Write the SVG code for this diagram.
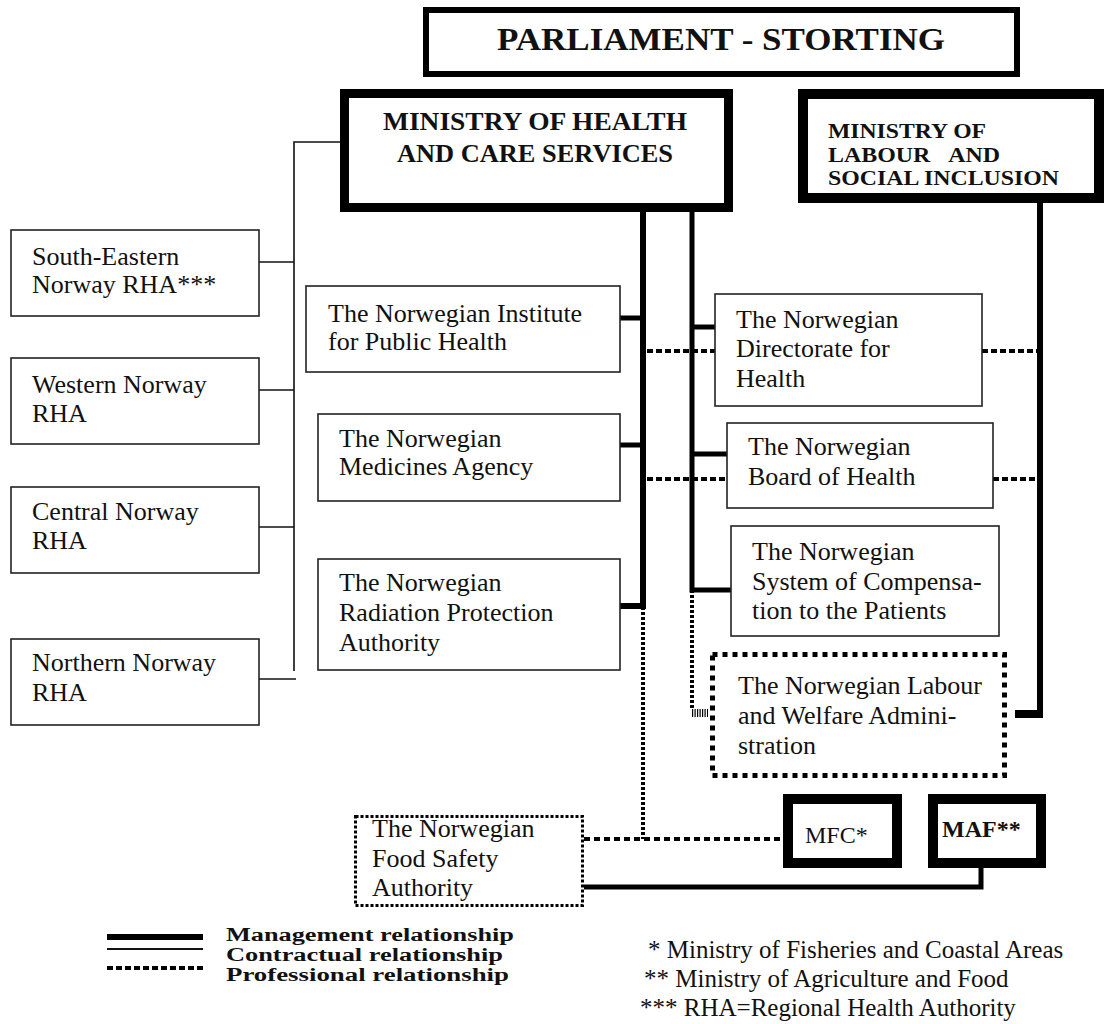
<svg xmlns="http://www.w3.org/2000/svg" width="1107" height="1024" viewBox="0 0 1107 1024">
<style>
  text { font-family: "Liberation Serif", "Times New Roman", serif; fill: #111; }
  .t { font-size: 26px; }
  .b { font-weight: bold; }
  .box { fill: #fff; stroke: #222; stroke-width: 1.6; }
  .heavy { fill: #fff; stroke: #000; }
  .thin { fill: none; stroke: #111; stroke-width: 1.6; }
  .mgmt { fill: none; stroke: #000; stroke-width: 5; }
  .prof { fill: none; stroke: #000; stroke-width: 4; stroke-dasharray: 6 3; }
  .profv { fill: none; stroke: #000; stroke-width: 4; stroke-dasharray: 3 2; }
</style>

<g id="connectors">
  <!-- contractual -->
  <polyline class="thin" points="340,142 294,142 294,671"/>
  <line class="thin" x1="259" y1="262" x2="294" y2="262"/>
  <line class="thin" x1="259" y1="390" x2="294" y2="390"/>
  <line class="thin" x1="259" y1="527" x2="294" y2="527"/>
  <line class="thin" x1="259" y1="679" x2="296" y2="679"/>
  <!-- management -->
  <path class="mgmt" d="M643,212 V606 H620" style="stroke-width:6"/>
  <line class="mgmt" x1="620" y1="318" x2="643" y2="318"/>
  <line class="mgmt" x1="620" y1="445" x2="643" y2="445"/>
  <path class="mgmt" d="M692,212 V590 H731"/>
  <line class="mgmt" x1="692" y1="327" x2="715" y2="327"/>
  <line class="mgmt" x1="692" y1="454" x2="727" y2="454"/>
  <line class="mgmt" x1="1040" y1="203" x2="1040" y2="718" style="stroke-width:6"/>
  <rect x="1015" y="710" width="28" height="8" fill="#000"/>
  <path class="mgmt" d="M584,887 H981 V868"/>
  <!-- professional -->
  <line class="prof" x1="647" y1="351" x2="715" y2="351"/>
  <line class="prof" x1="982" y1="351" x2="1038" y2="351"/>
  <line class="prof" x1="647" y1="479" x2="727" y2="479"/>
  <line class="prof" x1="993" y1="479" x2="1038" y2="479"/>
  <line class="profv" x1="643" y1="607" x2="643" y2="839"/>
  <line class="prof" x1="584" y1="839" x2="783" y2="839" style="stroke-dasharray:6 4"/>
  <line class="profv" x1="692" y1="590" x2="692" y2="710"/>
  <line x1="692" y1="713" x2="708" y2="713" stroke="#000" stroke-width="8" stroke-dasharray="1.2 1.3"/>
</g>

<g id="parliament">
  <rect class="heavy" x="426" y="10" width="591" height="64" stroke-width="6"/>
  <text class="b" x="497" y="50" font-size="31" textLength="448" lengthAdjust="spacingAndGlyphs">PARLIAMENT - STORTING</text>
</g>

<g id="ministry-health">
  <rect class="heavy" x="344.5" y="93.5" width="384" height="114" stroke-width="9"/>
  <text class="b" font-size="24.5"><tspan x="383" y="130" textLength="304" lengthAdjust="spacingAndGlyphs">MINISTRY OF HEALTH</tspan></text>
  <text class="b" font-size="24.5"><tspan x="397" y="162" textLength="276" lengthAdjust="spacingAndGlyphs">AND CARE SERVICES</tspan></text>
</g>

<g id="ministry-labour">
  <rect class="heavy" x="803" y="94" width="296" height="104" stroke-width="10"/>
  <text class="b" x="828" y="138" font-size="21" textLength="158" lengthAdjust="spacingAndGlyphs">MINISTRY OF</text>
  <text class="b" x="828" y="162" font-size="21" textLength="172" lengthAdjust="spacingAndGlyphs">LABOUR&#160;&#160;&#160;AND</text>
  <text class="b" x="828" y="185" font-size="21" textLength="231" lengthAdjust="spacingAndGlyphs">SOCIAL INCLUSION</text>
</g>

<g id="rha-south-eastern">
  <rect class="box" x="11" y="230" width="248" height="86"/>
  <text class="t"><tspan x="32" y="265">South-Eastern</tspan><tspan x="32" y="293">Norway RHA***</tspan></text>
</g>
<g id="rha-western">
  <rect class="box" x="11" y="358" width="248" height="86"/>
  <text class="t"><tspan x="32" y="393">Western Norway</tspan><tspan x="32" y="422">RHA</tspan></text>
</g>
<g id="rha-central">
  <rect class="box" x="11" y="487" width="248" height="86"/>
  <text class="t"><tspan x="32" y="520">Central Norway</tspan><tspan x="32" y="549">RHA</tspan></text>
</g>
<g id="rha-northern">
  <rect class="box" x="11" y="639" width="248" height="86"/>
  <text class="t"><tspan x="32" y="671">Northern Norway</tspan><tspan x="32" y="701">RHA</tspan></text>
</g>

<g id="institute-public-health">
  <rect class="box" x="306" y="286" width="314" height="86"/>
  <text class="t"><tspan x="328" y="322">The Norwegian Institute</tspan><tspan x="328" y="350">for Public Health</tspan></text>
</g>
<g id="medicines-agency">
  <rect class="box" x="318" y="414" width="302" height="87"/>
  <text class="t"><tspan x="339" y="447">The Norwegian</tspan><tspan x="339" y="475">Medicines Agency</tspan></text>
</g>
<g id="radiation-protection">
  <rect class="box" x="318" y="559" width="302" height="111"/>
  <text class="t"><tspan x="339" y="591">The Norwegian</tspan><tspan x="339" y="621">Radiation Protection</tspan><tspan x="339" y="651">Authority</tspan></text>
</g>

<g id="directorate-health">
  <rect class="box" x="715" y="294" width="267" height="112"/>
  <text class="t"><tspan x="736" y="328">The Norwegian</tspan><tspan x="736" y="357">Directorate for</tspan><tspan x="736" y="387">Health</tspan></text>
</g>
<g id="board-health">
  <rect class="box" x="727" y="423" width="266" height="85"/>
  <text class="t"><tspan x="748" y="455">The Norwegian</tspan><tspan x="748" y="485">Board of Health</tspan></text>
</g>
<g id="compensation">
  <rect class="box" x="731" y="526" width="268" height="110"/>
  <text class="t"><tspan x="752" y="560">The Norwegian</tspan><tspan x="752" y="590">System of Compensa-</tspan><tspan x="752" y="619">tion to the Patients</tspan></text>
</g>
<g id="labour-welfare">
  <rect x="712.5" y="654.5" width="292" height="121" fill="#fff" stroke="#000" stroke-width="5" stroke-dasharray="5 5"/>
  <text class="t"><tspan x="738" y="694">The Norwegian Labour</tspan><tspan x="738" y="724">and Welfare Admini-</tspan><tspan x="738" y="754">stration</tspan></text>
</g>

<g id="food-safety">
  <rect x="355.5" y="816.5" width="227" height="89" fill="#fff" stroke="#000" stroke-width="3" stroke-dasharray="3 2"/>
  <text class="t"><tspan x="372" y="837">The Norwegian</tspan><tspan x="372" y="867">Food Safety</tspan><tspan x="372" y="896">Authority</tspan></text>
</g>
<g id="mfc">
  <rect class="heavy" x="788" y="799" width="109" height="64" stroke-width="10"/>
  <text x="805" y="843" font-size="24">MFC*</text>
</g>
<g id="maf">
  <rect class="heavy" x="933" y="799" width="108" height="64" stroke-width="10"/>
  <text class="b" x="942" y="837" font-size="24">MAF**</text>
</g>

<g id="legend">
  <line x1="107" y1="937" x2="203" y2="937" stroke="#000" stroke-width="6"/>
  <line x1="107" y1="949" x2="203" y2="949" stroke="#111" stroke-width="2"/>
  <line x1="107" y1="968" x2="203" y2="968" stroke="#000" stroke-width="4" stroke-dasharray="6 3"/>
  <text class="b" x="226" y="941" font-size="18.5" textLength="288" lengthAdjust="spacingAndGlyphs">Management relationship</text>
  <text class="b" x="226" y="961" font-size="18.5" textLength="277" lengthAdjust="spacingAndGlyphs">Contractual relationship</text>
  <text class="b" x="226" y="981" font-size="18.5" textLength="283" lengthAdjust="spacingAndGlyphs">Professional relationship</text>
</g>

<g id="footnotes">
  <text font-size="25"><tspan x="648" y="958">* Ministry of Fisheries and Coastal Areas</tspan><tspan x="644" y="987">** Ministry of Agriculture and Food</tspan><tspan x="640" y="1016">*** RHA=Regional Health Authority</tspan></text>
</g>
</svg>
